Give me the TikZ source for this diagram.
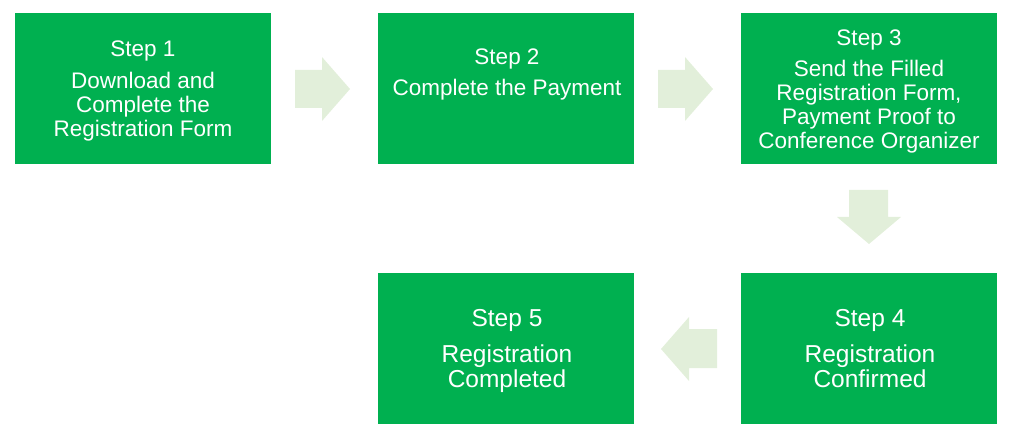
\documentclass[tikz,border=0pt]{standalone}
\usepackage{fontspec}
\setmainfont{Liberation Sans}
\definecolor{boxgreen}{HTML}{00B050}
\definecolor{arrowgreen}{HTML}{E2EFDA}
\begin{document}
\begin{tikzpicture}[x=1pt,y=-1pt,
  stepbox/.style={fill=boxgreen, draw=none, minimum width=256pt, minimum height=151pt, inner sep=0pt},
  steptext/.style={anchor=north, inner sep=0pt, align=center, text=white,
    font=\fontsize{22.5}{24}\selectfont},
  bigtext/.style={steptext, font=\fontsize{24.5}{25}\selectfont},
  flowarrow/.style={fill=arrowgreen, draw=none}]
\useasboundingbox (0,0) rectangle (1011,443);
\node[stepbox] (b1) at (143,88.5) {};
\node[stepbox] (b2) at (506,88.5) {};
\node[stepbox] (b3) at (869,88.5) {};
\node[stepbox] (b4) at (869,348.5) {};
\node[stepbox] (b5) at (506,348.5) {};
\node[steptext] (t1) at (143,39.2) {\strut Step 1\\[8pt]Download and\\Complete the\\Registration Form};
\node[steptext] (t2) at (507,47.2) {\strut Step 2\\[7pt]Complete the Payment};
\node[steptext] (t3) at (869,28.2) {\strut Step 3\\[7pt]Send the Filled\\Registration Form,\\Payment Proof to\\Conference Organizer};
\node[bigtext] (t4) at (870,308.5) {\strut Step 4\\[10pt]Registration\\Confirmed};
\node[bigtext] (t5) at (507,308.5) {\strut Step 5\\[10pt]Registration\\Completed};
\fill[flowarrow] (295,70) -- (322,70) -- (322,57) -- (350,89) -- (322,121) -- (322,108) -- (295,108) -- cycle;
\fill[flowarrow] (658,70) -- (685,70) -- (685,57) -- (713,89) -- (685,121) -- (685,108) -- (658,108) -- cycle;
\fill[flowarrow] (849,190) -- (888,190) -- (888,217) -- (901,217) -- (869,244) -- (837,217) -- (849,217) -- cycle;
\fill[flowarrow] (717,329) -- (689,329) -- (689,317) -- (661,349) -- (689,381) -- (689,368) -- (717,368) -- cycle;
\end{tikzpicture}
\end{document}
